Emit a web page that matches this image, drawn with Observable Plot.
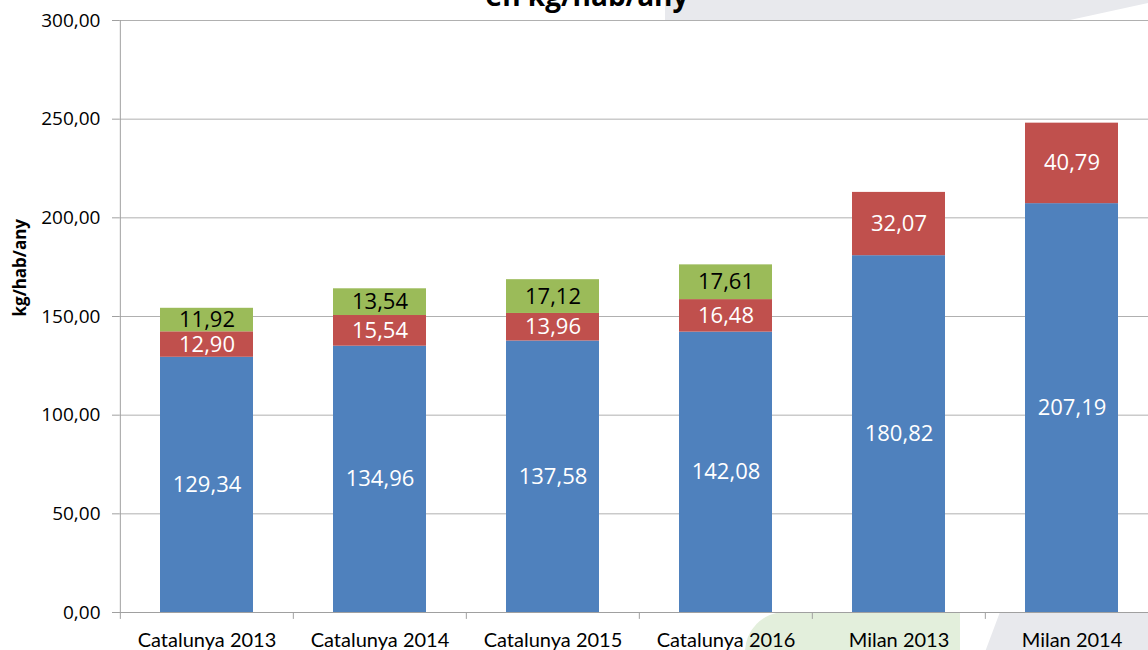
<!DOCTYPE html>
<html>
<head>
<meta charset="utf-8">
<script src="https://cdn.jsdelivr.net/npm/d3@7"></script>
<script src="https://cdn.jsdelivr.net/npm/@observablehq/plot@0.6"></script>
<style>
  html, body { margin: 0; padding: 0; background: #fff; overflow: hidden; }
  #wrap { position: relative; width: 1148px; height: 650px; overflow: hidden; }
  #bgGrey { position: absolute; left: 0; top: 0; width: 1148px; height: 20px;
    background: #e8e9ed; clip-path: polygon(665px 0, 1148px 0, 1148px 3px, 1070px 20px, 665px 20px); }
  #bgGreen { position: absolute; left: 745px; top: 612px; width: 215px; height: 40px;
    background: #e3efdc; border-radius: 40px 0 0 0; }
  #bgGrey2 { position: absolute; left: 0; top: 612px; width: 1148px; height: 40px;
    background: #e8e9ed; clip-path: polygon(1000px 0, 1148px 0, 1148px 40px, 985px 40px); }
  #title { position: absolute; left: 0; width: 1148px; top: -24px; text-align: center;
    font-family: "Open Sans", sans-serif; font-weight: bold; font-size: 28px; padding-left: 26px; box-sizing: border-box; }
  #chart { position: absolute; left: 0; top: 0; }
  #chart svg { overflow: hidden; }
</style>
</head>
<body>
<div id="wrap">
  <div id="bgGrey"></div>
  <div id="bgGreen"></div>
  <div id="bgGrey2"></div>
  <div id="title">en kg/hab/any</div>
  <div id="chart"></div>
</div>
<script>
const categories = ["Catalunya 2013", "Catalunya 2014", "Catalunya 2015", "Catalunya 2016", "Milan 2013", "Milan 2014"];
const seriesNames = ["Sèrie 1", "Sèrie 2", "Sèrie 3"];
const seriesColors = ["#4F81BD", "#C0504D", "#9BBB59"];
const labelColors = ["white", "white", "black"];
const blueValues = [129.34, 134.96, 137.58, 142.08, 180.82, 207.19];
const redValues = [12.90, 15.54, 13.96, 16.48, 32.07, 40.79];
const greenValues = [11.92, 13.54, 17.12, 17.61, 0, 0];
const yTicks = [0, 50, 100, 150, 200, 250, 300];
const yLabel = "kg/hab/any";

const allValues = [blueValues, redValues, greenValues];
const data = [];
categories.forEach((c, i) => {
  allValues.forEach((vals, s) => {
    if (vals[i] > 0) data.push({cat: c, series: seriesNames[s], s, value: vals[i]});
  });
});

const fmt = d => d.toFixed(2).replace(".", ",");
const marginRight = -11;
const step = (1148 - marginRight - 119) / categories.length;

const chart = Plot.plot({
  width: 1148,
  height: 650,
  marginLeft: 119,
  marginRight,
  marginTop: 20,
  marginBottom: 38,
  style: {background: "transparent", fontFamily: "Open Sans, sans-serif"},
  x: {domain: categories, paddingInner: 0.46, paddingOuter: 0.23, axis: null},
  y: {domain: [0, 300], axis: null},
  color: {type: "identity"},
  marks: [
    Plot.gridY(yTicks, {stroke: "#b0b0b0", strokeOpacity: 1}),
    Plot.barY(data, {x: "cat", y: "value", fill: d => seriesColors[d.s], z: "series"}),
    Plot.text(data, Plot.stackY({
      x: "cat", y: "value", text: d => fmt(d.value), z: "series",
      fill: d => labelColors[d.s], fontSize: 22, fontFamily: "Open Sans, sans-serif"
    })),
    Plot.ruleY([0], {stroke: "#a0a0a0"}),
    Plot.ruleX([categories[0]], {dx: -step / 2, y1: 0, y2: 300, stroke: "#a0a0a0"}),
    Plot.ruleX(categories, {dx: -step / 2, y1: 0, y2: -3.5, stroke: "#a0a0a0"}),
    Plot.axisY({ticks: yTicks, tickFormat: fmt, tickSize: 7, tickPadding: 12, fontSize: 19,
      stroke: "#a0a0a0", label: null, fontFamily: "Open Sans, sans-serif"}),
    Plot.axisX({tickSize: 0, tickPadding: 20, fontSize: 20, label: null, fontFamily: "Lato, sans-serif"}),
    Plot.text([yLabel], {frameAnchor: "left", rotate: -90, dx: -99, fontSize: 17,
      fontWeight: "bold", fill: "black", fontFamily: "Open Sans, sans-serif"})
  ]
});
document.getElementById("chart").appendChild(chart);
</script>
</body>
</html>
